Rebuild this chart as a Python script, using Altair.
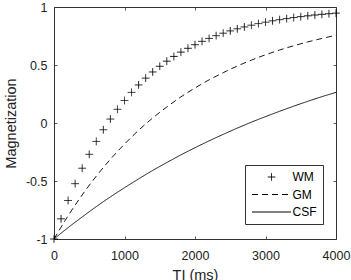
import altair as alt
import pandas as pd

# Inversion times (ms)
ti_wm = list(range(0, 4001, 100))
ti_line = list(range(0, 4001, 200))

wm = [-1.000, -0.826, -0.668, -0.523, -0.390, -0.270, -0.159, -0.058, 0.034, 0.118,
      0.194, 0.264, 0.328, 0.387, 0.440, 0.489, 0.533, 0.574, 0.611, 0.644,
      0.675, 0.704, 0.729, 0.753, 0.774, 0.794, 0.812, 0.828, 0.843, 0.857,
      0.869, 0.881, 0.891, 0.900, 0.909, 0.917, 0.924, 0.931, 0.937, 0.942, 0.947]
gm = [-1.000, -0.800, -0.620, -0.458, -0.313, -0.182, -0.063, 0.043, 0.138, 0.225,
      0.302, 0.372, 0.434, 0.491, 0.542, 0.588, 0.629, 0.666, 0.699, 0.729, 0.756]
csf = [-1.000, -0.902, -0.810, -0.721, -0.637, -0.558, -0.482, -0.409, -0.341, -0.275,
       -0.213, -0.154, -0.098, -0.044, 0.007, 0.055, 0.101, 0.145, 0.187, 0.227, 0.264]

series_names = ["WM", "GM", "CSF"]
x_ticks = [0, 1000, 2000, 3000, 4000]
y_ticks = [-1, -0.5, 0, 0.5, 1]

pts = pd.DataFrame({"TI": ti_wm, "M": wm, "series": "WM"})
lines = pd.concat([
    pd.DataFrame({"TI": ti_line, "M": gm, "series": "GM"}),
    pd.DataFrame({"TI": ti_line, "M": csf, "series": "CSF"}),
])

W, H = 282, 232
FONT = "Liberation Sans"
AX = "#333333"

xs = alt.Scale(domain=[0, 4000], nice=False, zero=False)
ys = alt.Scale(domain=[-1, 1], nice=False, zero=False)

plus = "M-1,0L1,0M0,-1L0,1"
bar = "M-5.2,0L5.2,0"
shape_scale = alt.Scale(domain=series_names, range=[plus, bar, bar])
dash_scale = alt.Scale(domain=series_names, range=[[1, 0], [6, 4], [1, 0]])

legend = alt.Legend(
    title=None, orient="none", legendX=191, legendY=158,
    padding=6, rowPadding=5.5, symbolSize=56, symbolOffset=14.5,
    labelOffset=15, labelExpr="datum.label + ' '",
    strokeColor=AX, fillColor="white", cornerRadius=0,
    symbolStrokeColor="black", symbolFillColor="transparent",
    symbolStrokeWidth=1, labelFontSize=12, labelFont=FONT,
    labelColor="#000000",
)

label_axis_x = alt.Axis(
    orient="bottom", values=x_ticks, ticks=False, domain=False, grid=False,
    labelExpr="'' + datum.value", labelPadding=10.5, labelFontSize=12.5,
    labelFont=FONT, labelColor="#222222", labelFlush=False, labelOverlap=False,
    title="TI (ms)", titleFont=FONT, titleFontSize=14.5, titleFontWeight="normal",
    titleColor="#222222", titleX=W / 2, titleY=40, titleAlign="center",
    titleBaseline="alphabetic",
)
label_axis_y = alt.Axis(
    orient="left", values=y_ticks, ticks=False, domain=False, grid=False,
    labelExpr="'' + datum.value", labelPadding=7, labelFontSize=12.5,
    labelFont=FONT, labelColor="#222222", labelFlush=False, labelOverlap=False,
    title="Magnetization", titleFont=FONT, titleFontSize=14.5,
    titleFontWeight="normal", titleColor="#222222", titleX=-39, titleY=H / 2,
    titleAlign="center", titleBaseline="alphabetic", titleAngle=270,
)


def tick_axis(orient, offset, vals):
    return alt.Axis(orient=orient, offset=offset, values=vals, ticks=True,
                    tickSize=3, tickColor=AX, tickWidth=0.8, labels=False,
                    domain=False, grid=False, title=None)


line_layer = alt.Chart(lines).mark_line(
    color="black", strokeWidth=0.9, interpolate="monotone"
).encode(
    x=alt.X("TI:Q", scale=xs, axis=label_axis_x),
    y=alt.Y("M:Q", scale=ys, axis=label_axis_y),
    strokeDash=alt.StrokeDash("series:N", scale=dash_scale, legend=legend),
    detail="series:N",
)

point_layer = alt.Chart(pts).mark_point(
    filled=False, stroke="black", strokeWidth=0.9, size=60, opacity=1
).encode(
    x=alt.X("TI:Q", scale=xs, axis=tick_axis("top", -H, x_ticks)),
    y=alt.Y("M:Q", scale=ys, axis=tick_axis("right", -W, y_ticks)),
    shape=alt.Shape("series:N", scale=shape_scale, legend=legend),
    strokeDash=alt.StrokeDash("series:N", scale=dash_scale, legend=legend),
)

ghost_layer = alt.Chart(lines).mark_line(opacity=0).encode(
    x=alt.X("TI:Q", scale=xs, axis=tick_axis("bottom", -H, x_ticks)),
    y=alt.Y("M:Q", scale=ys, axis=tick_axis("left", -W, y_ticks)),
    detail="series:N",
)

chart = alt.layer(line_layer, point_layer, ghost_layer).resolve_axis(
    x="independent", y="independent"
).properties(
    width=W, height=H,
    autosize=alt.AutoSizeParams(type="none"),
    padding={"left": 54, "top": 7, "right": 15, "bottom": 41},
    background="white",
).configure_view(
    stroke=AX, strokeWidth=1
)

chart.save("out.html", embed_options={"renderer": "svg", "actions": False})
